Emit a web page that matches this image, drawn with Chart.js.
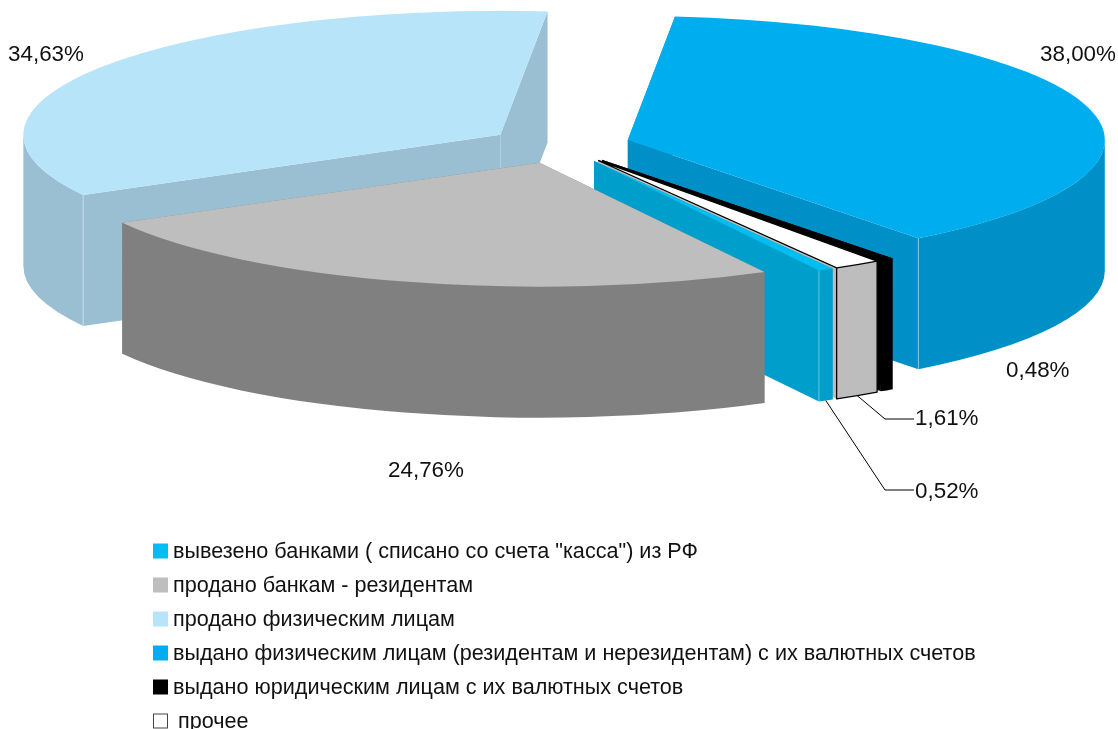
<!DOCTYPE html>
<html>
<head>
<meta charset="utf-8">
<style>
  html, body { margin: 0; padding: 0; background: #fff; }
  canvas { display: block; }
</style>
<script src="https://cdn.jsdelivr.net/npm/chart.js@4"></script>
</head>
<body>
<canvas id="chart" width="1118" height="729"></canvas>
<script>
// data, in legend order (clockwise on the pie)
const categories = [
    'вывезено банками ( списано со счета "касса") из РФ',
    'продано банкам - резидентам',
    'продано физическим лицам',
    'выдано физическим лицам (резидентам и нерезидентам) с их валютных счетов',
    'выдано юридическим лицам с их валютных счетов',
    'прочее'
];
const shares = [0.52, 24.76, 34.63, 38.00, 0.48, 1.61];
const shareLabels = ['0,52%', '24,76%', '34,63%', '38,00%', '0,48%', '1,61%'];

const topColors = ['#00bdf2', '#bebebe', '#b8e4fa', '#00aeef', '#000000', '#ffffff'];
const sideColors = ['#009fcb', '#808080', '#9abfd3', '#0090c8', '#000000', '#bdbdbd'];

// look of the tilted pie
const FONT = '"Liberation Sans", Arial, sans-serif';
const BASE_RADIUS = 300;       // radius inside Chart.js, squashed afterwards
const SCREEN_RX = 477, SCREEN_RY = 124;
const SCREEN_CX = 559.6, SCREEN_CY = 145;
const THICKNESS = 131;         // rim height on screen
const EXPLODE = 44.6;          // slice pull-out, in chart units
const paintOrder = [2, 3, 4, 5, 0, 1];   // back to front

const sx = SCREEN_RX / BASE_RADIUS, sy = SCREEN_RY / BASE_RADIUS;
const depth = THICKNESS / sy;

function tilt(ctx, chart) {
    const cx = (chart.chartArea.left + chart.chartArea.right) / 2;
    const cy = (chart.chartArea.top + chart.chartArea.bottom) / 2;
    ctx.translate(SCREEN_CX, SCREEN_CY);
    ctx.scale(sx, sy);
    ctx.translate(-cx, -cy);
}

function sliceGeometry(arc) {
    const p = arc.getProps(['x', 'y', 'startAngle', 'endAngle', 'outerRadius'], true);
    const half = (p.startAngle + p.endAngle) / 2;
    return {
        x: p.x + Math.cos(half) * EXPLODE,
        y: p.y + Math.sin(half) * EXPLODE,
        dx: Math.cos(half) * EXPLODE,
        dy: Math.sin(half) * EXPLODE,
        a0: p.startAngle, a1: p.endAngle, r: p.outerRadius, half
    };
}

// chart coordinates to page coordinates
function toPage(chart, x, y) {
    const cx = (chart.chartArea.left + chart.chartArea.right) / 2;
    const cy = (chart.chartArea.top + chart.chartArea.bottom) / 2;
    return { x: SCREEN_CX + (x - cx) * sx, y: SCREEN_CY + (y - cy) * sy };
}

function cutFace(ctx, g, angle) {
    const ex = g.x + Math.cos(angle) * g.r, ey = g.y + Math.sin(angle) * g.r;
    ctx.beginPath();
    ctx.moveTo(g.x, g.y);
    ctx.lineTo(ex, ey);
    ctx.lineTo(ex, ey + depth);
    ctx.lineTo(g.x, g.y + depth);
    ctx.closePath();
}

// only the front half of the rim can be seen, and a band round the far side crosses itself
function rimFace(ctx, g) {
    for (let k = -1; k <= 2; k++) {
        const lo = Math.max(g.a0, k * 2 * Math.PI);
        const hi = Math.min(g.a1, k * 2 * Math.PI + Math.PI);
        if (hi <= lo) continue;
        ctx.beginPath();
        ctx.arc(g.x, g.y, g.r, lo, hi);
        ctx.arc(g.x, g.y + depth, g.r, hi, lo, true);
        ctx.closePath();
        ctx.fill();
    }
}

// walls of one slice, hidden ones first
function drawWalls(ctx, g, color) {
    ctx.fillStyle = color;
    const startShows = -Math.cos(g.a0) > 0;   // normal of the start face points at viewer
    const endShows = Math.cos(g.a1) > 0;
    if (!startShows) { cutFace(ctx, g, g.a0); ctx.fill(); }
    if (!endShows) { cutFace(ctx, g, g.a1); ctx.fill(); }
    rimFace(ctx, g);
    if (startShows) { cutFace(ctx, g, g.a0); ctx.fill(); }
    if (endShows) { cutFace(ctx, g, g.a1); ctx.fill(); }
}

function rimOutline(ctx, g) {
    const x0 = g.x + Math.cos(g.a0) * g.r, y0 = g.y + Math.sin(g.a0) * g.r;
    const x1 = g.x + Math.cos(g.a1) * g.r, y1 = g.y + Math.sin(g.a1) * g.r;
    ctx.moveTo(x0, y0);
    ctx.lineTo(x0, y0 + depth);
    ctx.arc(g.x, g.y + depth, g.r, g.a0, g.a1);
    ctx.lineTo(x1, y1);
}

// pale seam running down the outer end of a cut face
function seam(ctx, chart, g, angle) {
    const p = toPage(chart, g.x + Math.cos(angle) * g.r, g.y + Math.sin(angle) * g.r);
    ctx.strokeStyle = 'rgba(255,255,255,0.4)';
    ctx.lineWidth = 1;
    ctx.beginPath();
    ctx.moveTo(p.x, p.y);
    ctx.lineTo(p.x, p.y + THICKNESS);
    ctx.stroke();
}

const pie3d = {
    id: 'pie3d',
    beforeDatasetDraw(chart, args) {
        const ctx = chart.ctx;
        const arcs = chart.getDatasetMeta(args.index).data;
        paintOrder.forEach(i => {
            const g = sliceGeometry(arcs[i]);
            ctx.save();
            tilt(ctx, chart);
            drawWalls(ctx, g, sideColors[i]);
            ctx.translate(g.dx, g.dy);
            arcs[i].draw(ctx);
            ctx.restore();

            if (i === 0 || i === 2 || i === 3) seam(ctx, chart, g, i === 2 ? g.a0 : g.a1);

            // thin black outline on the white slice
            if (i === 5) {
                ctx.save();
                tilt(ctx, chart);
                ctx.beginPath();
                ctx.moveTo(g.x, g.y);
                ctx.arc(g.x, g.y, g.r, g.a0, g.a1);
                ctx.closePath();
                rimOutline(ctx, g);
                ctx.restore();
                ctx.strokeStyle = '#000';
                ctx.lineWidth = 1.3;
                ctx.stroke();
            }
        });
        return false;
    },
    afterDraw(chart) {
        const ctx = chart.ctx;
        const arcs = chart.getDatasetMeta(0).data;
        drawLeader(ctx, chart, arcs[0], 885, 490, 914);
        drawLeader(ctx, chart, arcs[5], 885, 419, 914);
        drawShareLabels(ctx);
        drawLegend(ctx);
    }
};

function drawLeader(ctx, chart, arc, elbowX, elbowY, endX) {
    const g = sliceGeometry(arc);
    const p = toPage(chart, g.x + Math.cos(g.half) * g.r, g.y + Math.sin(g.half) * g.r);
    ctx.strokeStyle = '#000';
    ctx.lineWidth = 1;
    ctx.beginPath();
    ctx.moveTo(p.x, p.y + THICKNESS);
    ctx.lineTo(elbowX, elbowY);
    ctx.lineTo(endX, elbowY);
    ctx.stroke();
}

// label spots on the page, same order as shareLabels
const labelLeft = [915, 388, 8, 1040, 1006, 915];
const labelMiddle = [492, 471, 55, 55, 371, 419];

function drawShareLabels(ctx) {
    ctx.font = '22.4px ' + FONT;
    ctx.fillStyle = '#111';
    ctx.textAlign = 'left';
    ctx.textBaseline = 'middle';
    shareLabels.forEach((t, i) => ctx.fillText(t, labelLeft[i], labelMiddle[i]));
}

const legendRows = [552, 586, 620, 654, 688, 722];

function drawLegend(ctx) {
    ctx.font = '21.6px ' + FONT;
    ctx.textAlign = 'left';
    ctx.textBaseline = 'middle';
    categories.forEach((t, i) => {
        const y = legendRows[i];
        ctx.fillStyle = topColors[i];
        ctx.fillRect(153, y - 8.5, 15, 15);
        if (topColors[i] === '#ffffff') {
            ctx.strokeStyle = '#444';
            ctx.lineWidth = 1;
            ctx.strokeRect(153.5, y - 8, 14, 14);
        }
        ctx.fillStyle = '#111';
        ctx.fillText(t, i === 5 ? 178 : 173, y);
    });
}

new Chart(document.getElementById('chart').getContext('2d'), {
    type: 'pie',
    data: {
        labels: categories,
        datasets: [{
            data: shares,
            backgroundColor: topColors,
            borderWidth: 0
        }]
    },
    options: {
        responsive: false,
        animation: false,
        radius: BASE_RADIUS,
        rotation: 150,
        layout: { padding: 0 },
        plugins: {
            legend: { display: false },
            tooltip: { enabled: false }
        }
    },
    plugins: [pie3d]
});
</script>
</body>
</html>
